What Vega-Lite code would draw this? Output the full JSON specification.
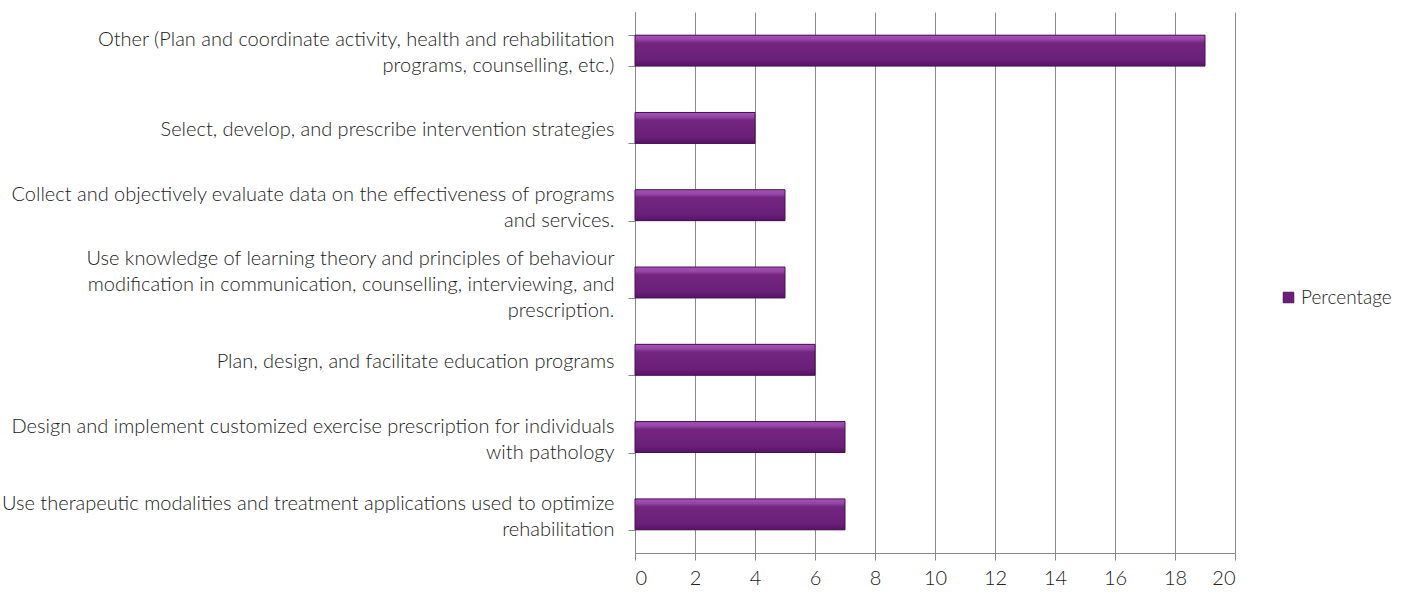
{
  "$schema": "https://vega.github.io/schema/vega-lite/v6.json",
  "width": 600,
  "height": 541,
  "padding": {"left": 1, "top": 12, "right": 0, "bottom": 0},
  "background": "white",
  "data": {
    "values": [
      {"task": "Other (Plan and coordinate activity, health and rehabilitation\nprograms, counselling, etc.)", "value": 19, "series": "Percentage"},
      {"task": "Select, develop, and prescribe intervention strategies", "value": 4, "series": "Percentage"},
      {"task": "Collect and objectively evaluate data on the effectiveness of programs\nand services.", "value": 5, "series": "Percentage"},
      {"task": "Use knowledge of learning theory and principles of behaviour\nmodification in communication, counselling, interviewing, and\nprescription.", "value": 5, "series": "Percentage"},
      {"task": "Plan, design, and facilitate education programs", "value": 6, "series": "Percentage"},
      {"task": "Design and implement customized exercise prescription for individuals\nwith pathology", "value": 7, "series": "Percentage"},
      {"task": "Use therapeutic modalities and treatment applications used to optimize\nrehabilitation", "value": 7, "series": "Percentage"}
    ]
  },
  "encoding": {
    "y": {
      "field": "task",
      "type": "nominal",
      "sort": null,
      "title": null,
      "scale": {"paddingInner": 0.6, "paddingOuter": 0.3},
      "axis": {
        "labelExpr": "datum.value ? split(datum.value, '\\n') : ''",
        "labelLineHeight": 26,
        "labelFontSize": {"condition": {"test": "!datum.value", "value": 1}, "value": 20},
        "labelFont": "Lato",
        "labelFontWeight": 300,
        "labelColor": "#222222",
        "labelAlign": "right",
        "labelBaseline": {
          "condition": [
            {"test": "datum.value && indexof(datum.value, 'behaviour') >= 0", "value": "line-bottom"},
            {"test": "datum.value && indexof(datum.value, '\\n') >= 0", "value": "middle"}
          ],
          "value": "line-top"
        },
        "labelOffset": -11,
        "labelPadding": 14,
        "labelLimit": 700,
        "tickBand": "extent",
        "tickSize": 7,
        "tickColor": "#888888",
        "domainColor": "#888888",
        "minExtent": 630,
        "maxExtent": 630
      }
    },
    "x": {
      "field": "value",
      "type": "quantitative",
      "title": null,
      "scale": {"domain": [0, 20], "nice": false},
      "axis": {
        "values": [0, 2, 4, 6, 8, 10, 12, 14, 16, 18, 20],
        "labelFontSize": 20,
        "labelFont": "Lato",
        "labelFontWeight": 300,
        "labelColor": "#222222",
        "labelPadding": 8,
        "tickSize": 7,
        "tickColor": "#888888",
        "domainColor": "#888888",
        "grid": true,
        "gridColor": "#8c8c8c",
        "gridWidth": 1
      }
    }
  },
  "layer": [
    {
      "mark": {"type": "bar"},
      "encoding": {
        "color": {
          "field": "series",
          "type": "nominal",
          "scale": {"range": ["#6a1f78"]},
          "legend": {
            "title": null,
            "orient": "none",
            "legendX": 644,
            "legendY": 276,
            "labelFont": "Lato",
            "labelFontWeight": 300,
            "labelFontSize": 19,
            "labelColor": "#222222",
            "labelOffset": 3,
            "symbolType": "square",
            "symbolSize": 110,
            "symbolStrokeColor": "#4a1055",
            "symbolStrokeWidth": 1,
            "padding": 0
          }
        }
      }
    },
    {
      "mark": {
        "type": "bar",
        "stroke": "#4a1055",
        "strokeWidth": 1,
        "fill": {
          "gradient": "linear",
          "x1": 0, "y1": 0, "x2": 0, "y2": 1,
          "stops": [
            {"offset": 0, "color": "#a455b5"},
            {"offset": 0.15, "color": "#9444a5"},
            {"offset": 0.25, "color": "#72267f"},
            {"offset": 0.8, "color": "#6a1f78"},
            {"offset": 1, "color": "#551463"}
          ]
        }
      }
    }
  ],
  "config": {
    "view": {"stroke": null},
    "axis": {"labelFont": "Lato"}
  }
}
